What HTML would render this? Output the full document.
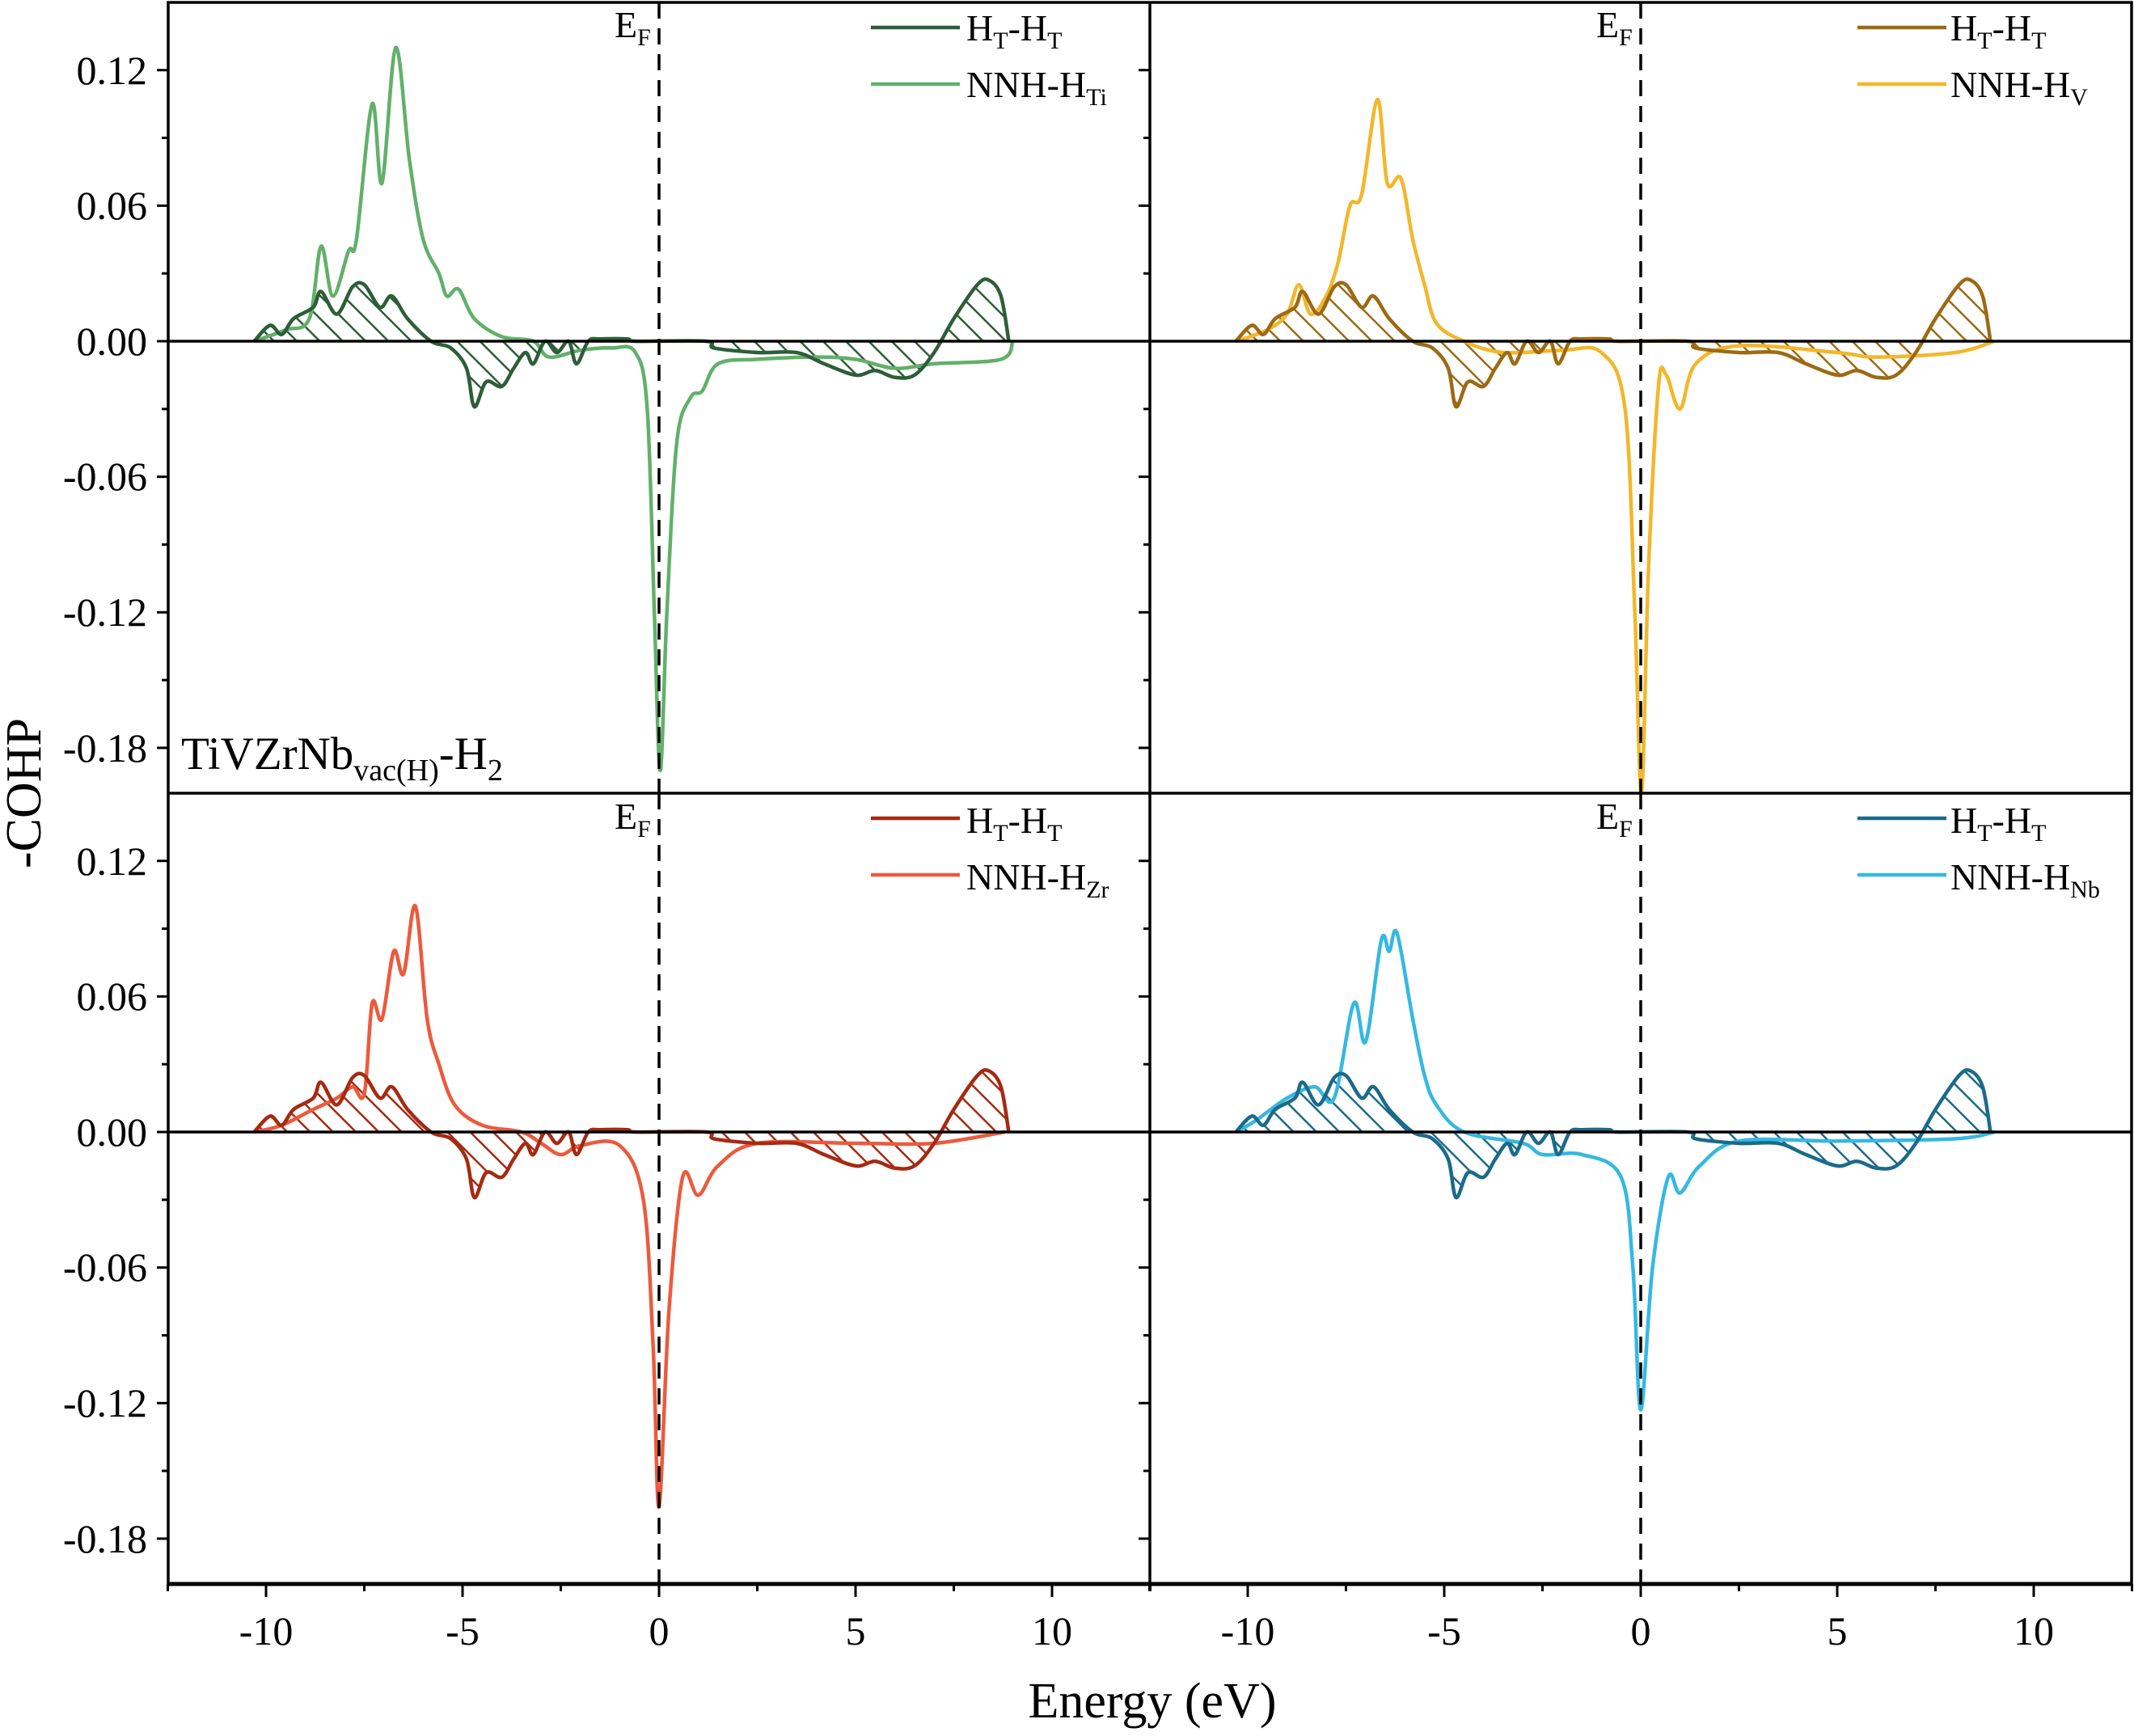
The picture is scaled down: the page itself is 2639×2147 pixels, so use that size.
<!DOCTYPE html>
<html><head><meta charset="utf-8">
<style>
html,body{margin:0;padding:0;background:#fff;}
svg{display:block;font-family:"Liberation Serif",serif;}
</style></head>
<body>
<svg id="s" width="2639" height="2147" viewBox="0 0 2639 2147" xmlns="http://www.w3.org/2000/svg">
<defs>
<pattern id="hTi" patternUnits="userSpaceOnUse" width="20" height="20" patternTransform="rotate(-45)"><line x1="0" y1="0" x2="0" y2="20" stroke="#2d5e38" stroke-width="5"/></pattern>
<pattern id="hV" patternUnits="userSpaceOnUse" width="20" height="20" patternTransform="rotate(-45)"><line x1="0" y1="0" x2="0" y2="20" stroke="#9c6a14" stroke-width="5"/></pattern>
<pattern id="hZr" patternUnits="userSpaceOnUse" width="20" height="20" patternTransform="rotate(-45)"><line x1="0" y1="0" x2="0" y2="20" stroke="#a52a12" stroke-width="5"/></pattern>
<pattern id="hNb" patternUnits="userSpaceOnUse" width="20" height="20" patternTransform="rotate(-45)"><line x1="0" y1="0" x2="0" y2="20" stroke="#1b6a8a" stroke-width="5"/></pattern>
</defs>
<g id="g"></g>
<g font-size="50" text-anchor="end" fill="#000">
<text x="182" y="104">0.12</text><text x="182" y="271">0.06</text><text x="182" y="439">0.00</text>
<text x="182" y="606">-0.06</text><text x="182" y="774">-0.12</text><text x="182" y="942">-0.18</text>
<text x="182" y="1082">0.12</text><text x="182" y="1249">0.06</text><text x="182" y="1417">0.00</text>
<text x="182" y="1584">-0.06</text><text x="182" y="1752">-0.12</text><text x="182" y="1920">-0.18</text>
</g>
<g font-size="50" text-anchor="middle" fill="#000">
<text x="329" y="2034">-10</text><text x="572" y="2034">-5</text><text x="815" y="2034">0</text><text x="1058" y="2034">5</text><text x="1301" y="2034">10</text>
<text x="1543" y="2034">-10</text><text x="1786" y="2034">-5</text><text x="2029" y="2034">0</text><text x="2272" y="2034">5</text><text x="2515" y="2034">10</text>
</g>
<text x="1425" y="2124" font-size="62" text-anchor="middle">Energy (eV)</text>
<text transform="translate(50,981) rotate(-90)" font-size="62" text-anchor="middle">-COHP</text>
<text x="224" y="951" font-size="57">TiVZrNb<tspan font-size="38" dy="14">vac(H)</tspan><tspan dy="-14">-H</tspan><tspan font-size="38" dy="14">2</tspan></text>
<g font-size="46">
<text x="760" y="46">E<tspan font-size="30" dy="10">F</tspan></text>
<text x="1974" y="46">E<tspan font-size="30" dy="10">F</tspan></text>
<text x="760" y="1025">E<tspan font-size="30" dy="10">F</tspan></text>
<text x="1974" y="1025">E<tspan font-size="30" dy="10">F</tspan></text>
<text x="1195" y="50">H<tspan font-size="30" dy="10">T</tspan><tspan dy="-10">-H</tspan><tspan font-size="30" dy="10">T</tspan></text>
<text x="1195" y="120">NNH-H<tspan font-size="30" dy="10">Ti</tspan></text>
<text x="2412" y="50">H<tspan font-size="30" dy="10">T</tspan><tspan dy="-10">-H</tspan><tspan font-size="30" dy="10">T</tspan></text>
<text x="2412" y="120">NNH-H<tspan font-size="30" dy="10">V</tspan></text>
<text x="1195" y="1030">H<tspan font-size="30" dy="10">T</tspan><tspan dy="-10">-H</tspan><tspan font-size="30" dy="10">T</tspan></text>
<text x="1195" y="1100">NNH-H<tspan font-size="30" dy="10">Zr</tspan></text>
<text x="2412" y="1030">H<tspan font-size="30" dy="10">T</tspan><tspan dy="-10">-H</tspan><tspan font-size="30" dy="10">T</tspan></text>
<text x="2412" y="1100">NNH-H<tspan font-size="30" dy="10">Nb</tspan></text>
</g>
</svg>
<script>
const g=document.getElementById('g');
const NS='http://www.w3.org/2000/svg';
function el(t,a){const e=document.createElementNS(NS,t);for(const k in a)e.setAttribute(k,a[k]);g.appendChild(e);return e;}
const PX=48.6, PY=2794;
function path(pts,x0,y0){
  const P=pts.map(p=>[x0+p[0]*PX,y0-p[1]*PY]);
  let d='M'+P[0][0].toFixed(1)+','+P[0][1].toFixed(1);
  for(let i=0;i<P.length-1;i++){
    const p0=P[Math.max(0,i-1)],p1=P[i],p2=P[i+1],p3=P[Math.min(P.length-1,i+2)];
    const c1=[p1[0]+(p2[0]-p0[0])/6,p1[1]+(p2[1]-p0[1])/6];
    const c2=[p2[0]-(p3[0]-p1[0])/6,p2[1]-(p3[1]-p1[1])/6];
    d+='C'+c1[0].toFixed(1)+','+c1[1].toFixed(1)+' '+c2[0].toFixed(1)+','+c2[1].toFixed(1)+' '+p2[0].toFixed(1)+','+p2[1].toFixed(1);
  }
  return d;
}
const HT=[[-10.3,0],[-9.9,0.007],[-9.6,0.003],[-9.3,0.01],[-8.8,0.015],[-8.6,0.022],[-8.2,0.012],[-7.8,0.024],[-7.5,0.025],[-7.1,0.015],[-6.8,0.02],[-6.4,0.01],[-5.8,0],[-5.3,-0.003],[-4.9,-0.012],[-4.7,-0.029],[-4.4,-0.018],[-4.0,-0.02],[-3.7,-0.012],[-3.4,-0.005],[-3.2,-0.01],[-2.9,0],[-2.6,-0.005],[-2.3,0],[-2.1,-0.01],[-1.8,0],[-1.5,0.001],[-0.8,0.001],[-0.6,0],[1.2,0],[1.4,-0.003],[2.5,-0.005],[3.5,-0.005],[4.2,-0.01],[5,-0.015],[5.5,-0.013],[6,-0.016],[6.5,-0.015],[7,-0.005],[7.5,0.01],[8.1,0.025],[8.4,0.027],[8.7,0.02],[8.9,0]];
const NNH={
Ti:[[-10.3,0],[-9.5,0.005],[-8.9,0.01],[-8.6,0.042],[-8.3,0.02],[-7.9,0.04],[-7.7,0.045],[-7.3,0.105],[-7.05,0.07],[-6.7,0.13],[-6.35,0.08],[-6.0,0.045],[-5.6,0.03],[-5.4,0.02],[-5.1,0.023],[-4.7,0.01],[-4.0,0.002],[-3.2,0],[-2.8,-0.007],[-2.0,-0.004],[-1.2,-0.003],[-0.6,-0.005],[-0.3,-0.03],[-0.12,-0.12],[0.03,-0.19],[0.2,-0.12],[0.45,-0.045],[0.8,-0.025],[1.1,-0.022],[1.5,-0.01],[2.5,-0.008],[4,-0.007],[5,-0.008],[6,-0.012],[7,-0.01],[8.7,-0.008],[9,0]],
V:[[-10.3,0],[-9.5,0.005],[-9.0,0.012],[-8.7,0.025],[-8.4,0.012],[-8.0,0.02],[-7.7,0.035],[-7.4,0.06],[-7.1,0.065],[-6.7,0.107],[-6.45,0.07],[-6.1,0.072],[-5.8,0.045],[-5.5,0.025],[-5.2,0.008],[-4.5,0],[-3.5,-0.005],[-2.0,-0.004],[-1.0,-0.005],[-0.4,-0.03],[-0.15,-0.12],[0.02,-0.2],[0.2,-0.1],[0.45,-0.02],[0.65,-0.015],[1.0,-0.03],[1.4,-0.01],[2.5,-0.002],[5,-0.005],[6,-0.007],[8,-0.005],[9,0]],
Zr:[[-10.3,0],[-9.6,0.003],[-8.8,0.01],[-8.2,0.015],[-7.8,0.02],[-7.5,0.017],[-7.3,0.057],[-7.05,0.05],[-6.75,0.08],[-6.5,0.07],[-6.2,0.1],[-5.9,0.05],[-5.6,0.03],[-5.2,0.012],[-4.5,0.003],[-3.5,0],[-3.0,-0.005],[-2.5,-0.01],[-2.0,-0.006],[-1.0,-0.006],[-0.4,-0.03],[-0.15,-0.095],[0.0,-0.166],[0.25,-0.08],[0.6,-0.02],[1.0,-0.028],[1.5,-0.015],[2.5,-0.005],[5,-0.005],[7,-0.005],[8.8,0]],
Nb:[[-10.3,0],[-9.8,0.005],[-9.0,0.015],[-8.3,0.02],[-7.8,0.015],[-7.3,0.057],[-7.0,0.04],[-6.6,0.085],[-6.4,0.08],[-6.2,0.088],[-5.8,0.05],[-5.5,0.025],[-5.2,0.012],[-4.5,0],[-3.0,-0.005],[-2.5,-0.01],[-1.5,-0.01],[-0.5,-0.02],[-0.2,-0.06],[0.0,-0.123],[0.3,-0.06],[0.7,-0.02],[1.0,-0.027],[1.5,-0.015],[2.5,-0.004],[5,-0.004],[8,-0.003],[9,0]]
};
const panels=[
 {x0:815,y0:422,top:3,k:'Ti',dark:'#2d5e38',light:'#62b06a',h:'hTi'},
 {x0:2029,y0:422,top:3,k:'V',dark:'#9c6a14',light:'#f2b72a',h:'hV'},
 {x0:815,y0:1400,top:981,k:'Zr',dark:'#a52a12',light:'#ec5a3c',h:'hZr'},
 {x0:2029,y0:1400,top:981,k:'Nb',dark:'#1b6a8a',light:'#35b8e2',h:'hNb'}];
panels.forEach((p,i)=>{
  const L=p.x0-607;
  let d=path(HT,p.x0,p.y0)+'L'+(p.x0+8.9*PX)+','+p.y0+'L'+(p.x0-10.3*PX)+','+p.y0+'Z';
  el('path',{d:d,fill:'url(#'+p.h+')'});
  el('path',{d:path(NNH[p.k],p.x0,p.y0),fill:'none',stroke:p.light,'stroke-width':4.5,'stroke-linejoin':'round'});
  el('path',{d:path(HT,p.x0,p.y0),fill:'none',stroke:p.dark,'stroke-width':4.5,'stroke-linejoin':'round'});
  el('line',{x1:L,x2:L+1214,y1:p.y0,y2:p.y0,stroke:'#000','stroke-width':3.5});
  el('line',{x1:p.x0,x2:p.x0,y1:p.top,y2:p.top+978,stroke:'#000','stroke-width':3.5,'stroke-dasharray':'20,12'});
  const lx=(i%2==0)?1077:2297;
  el('line',{x1:lx,x2:lx+110,y1:p.top+31,y2:p.top+31,stroke:p.dark,'stroke-width':4.5});
  el('line',{x1:lx,x2:lx+110,y1:p.top+101,y2:p.top+101,stroke:p.light,'stroke-width':4.5});
  for(let v=-0.18;v<=0.1501;v+=0.03){
    const y=p.y0-v*PY; const major=Math.abs(Math.round(v/0.03))%2==0;
    if(y<p.top+2||y>p.top+977)continue;
    el('line',{x1:L-(major?14:8),x2:L,y1:y,y2:y,stroke:'#000','stroke-width':3});
  }
});
el('rect',{x:208,y:3,width:2428,height:1956,fill:'none',stroke:'#000','stroke-width':3.5});
el('line',{x1:1422,x2:1422,y1:3,y2:1959,stroke:'#000','stroke-width':3.5});
el('line',{x1:208,x2:2636,y1:981,y2:981,stroke:'#000','stroke-width':3.5});
el('line',{x1:208,x2:2636,y1:1959,y2:1959,stroke:'#000','stroke-width':5});
[815,2029].forEach(x0=>{
  for(let e=-12.5;e<=12.51;e+=2.5){
    const x=x0+e*PX; const major=Math.abs(Math.round(e/2.5))%2==0;
    el('line',{x1:x,x2:x,y1:1959,y2:1959+(major?16:9),stroke:'#000','stroke-width':3});
  }
});
</script>
</body></html>
